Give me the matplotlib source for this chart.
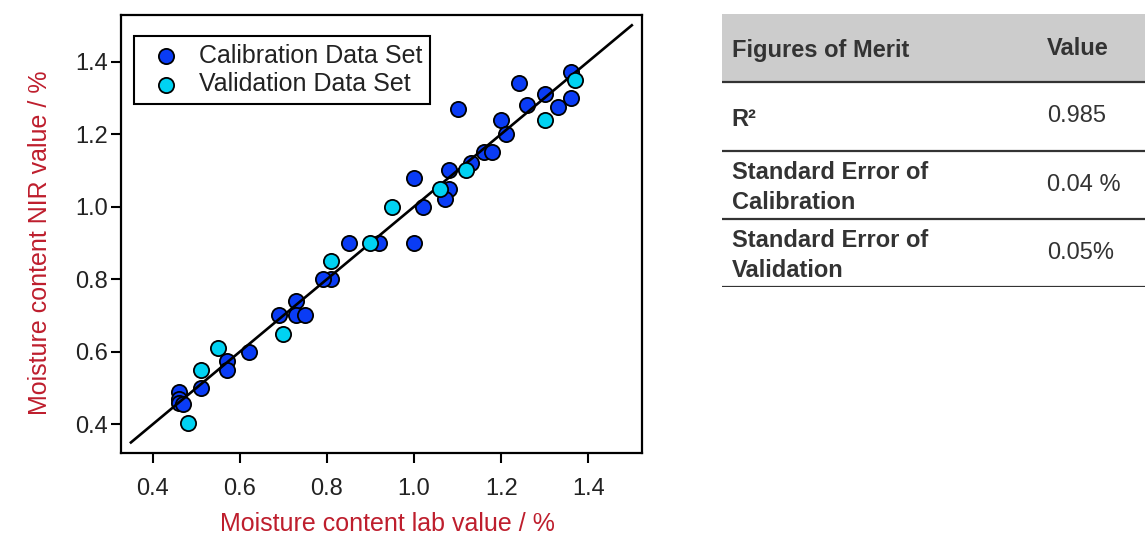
import matplotlib
matplotlib.use("Agg")
import matplotlib.pyplot as plt

plt.rcParams['font.family'] = ['Liberation Sans', 'DejaVu Sans']

# -------- Data --------
cal_lab = [1.36, 1.24, 1.30, 1.36, 1.26, 1.33, 1.10, 1.20, 1.21, 1.16,
           1.18, 1.13, 1.08, 1.08, 1.07, 1.00, 1.02, 1.00, 0.92, 0.85,
           0.81, 0.79, 0.73, 0.69, 0.73, 0.75, 0.62, 0.57, 0.57, 0.51,
           0.46, 0.46, 0.46, 0.47]
cal_nir = [1.37, 1.34, 1.31, 1.30, 1.28, 1.275, 1.27, 1.24, 1.20, 1.15,
           1.15, 1.12, 1.10, 1.05, 1.02, 1.08, 1.00, 0.90, 0.90, 0.90,
           0.80, 0.80, 0.74, 0.70, 0.70, 0.70, 0.60, 0.575, 0.55, 0.50,
           0.49, 0.47, 0.46, 0.455]

val_lab = [1.37, 1.30, 1.12, 1.06, 0.95, 0.90, 0.81, 0.70, 0.55, 0.51, 0.48]
val_nir = [1.35, 1.24, 1.10, 1.05, 1.00, 0.90, 0.85, 0.65, 0.61, 0.55, 0.405]

fit_range = [0.35, 1.50]

merit_names = ["Figures of Merit", "R\u00b2",
               "Standard Error of\nCalibration", "Standard Error of\nValidation"]
merit_values = ["Value", "0.985", "0.04 %", "0.05%"]

label_red = "#BE1E2D"
text_grey = "#333333"

# -------- Scatter plot --------
fig = plt.figure(figsize=(11.45, 5.34), dpi=100)
ax = fig.add_axes([0.1054, 0.1522, 0.4550, 0.8188])

ax.scatter(cal_lab, cal_nir, s=120, color="#0a3cf5", edgecolors="black",
           linewidths=1.3, zorder=2, label="Calibration Data Set")
ax.plot(fit_range, fit_range, color="black", lw=1.9, zorder=3)
ax.scatter(val_lab, val_nir, s=120, color="#00d2f2", edgecolors="black",
           linewidths=1.3, zorder=4, label="Validation Data Set")

ax.set_xlim(0.3265, 1.5226)
ax.set_ylim(0.3217, 1.527)
ax.set_xticks([0.4, 0.6, 0.8, 1.0, 1.2, 1.4])
ax.set_yticks([0.4, 0.6, 0.8, 1.0, 1.2, 1.4])
ax.xaxis.set_major_formatter(plt.FormatStrFormatter('%.1f'))
ax.yaxis.set_major_formatter(plt.FormatStrFormatter('%.1f'))
for sp in ax.spines.values():
    sp.set_linewidth(1.6)
ax.tick_params(axis="both", direction="out", length=7.5, width=1.5,
               labelsize=17, colors="black", labelcolor="#222222")
ax.tick_params(axis="x", pad=10.5)
ax.tick_params(axis="y", pad=1.5)

ax.set_xlabel("Moisture content lab value / %", fontsize=18, color=label_red, labelpad=9)
ax.set_ylabel("Moisture content NIR value / %", fontsize=18, color=label_red, labelpad=16.5)
ax.xaxis.label.set_x(0.512)
ax.yaxis.label.set_y(0.48)

leg = ax.legend(loc="upper left", bbox_to_anchor=(0.0255, 0.953), borderaxespad=0,
                fontsize=18, frameon=True, fancybox=False, framealpha=1,
                edgecolor="black", handletextpad=0.3, labelspacing=0.19,
                borderpad=0.3, scatterpoints=1)
leg.get_frame().set_linewidth(1.5)
for t in leg.get_texts():
    t.set_color("#222222")

# -------- Figures of merit table --------
tab = fig.add_axes([0.6303, 0.4625, 0.3697, 0.5113])
tab.set_xlim(0, 1)
tab.set_ylim(len(merit_names), 0)
tab.axis("off")
tab.axhspan(0, 1, color="#cccccc", lw=0)
for i in range(1, len(merit_names) + 1):
    tab.axhline(i, color=text_grey, lw=1.6)

for i, (name, val) in enumerate(zip(merit_names, merit_values)):
    tab.text(0.0236, i + 0.54, name, ha="left", va="center", fontsize=17,
             fontweight="bold", color=text_grey, linespacing=1.4)
    tab.text(0.768, i + 0.5, val, ha="left", va="center", fontsize=17,
             fontweight="bold" if i == 0 else "normal", color=text_grey)

fig.savefig("out.png", dpi=100)
